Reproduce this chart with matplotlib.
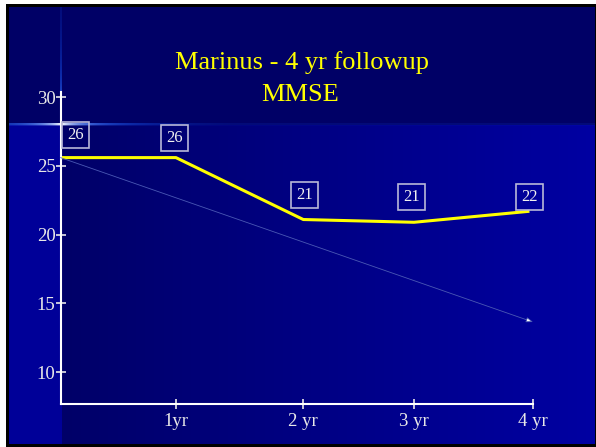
import numpy as np
import matplotlib
matplotlib.use("Agg")
import matplotlib.pyplot as plt

plt.rcParams['font.family'] = ['Liberation Serif', 'DejaVu Serif']

# MMSE scores, baseline + yearly followups
years = [0.03, 1, 2.07, 3, 3.97]
mmse = [25.6, 25.6, 21.1, 20.9, 21.7]
point_labels = ["26", "26", "21", "21", "22"]

# expected decline (thin arrow)
trend_years = [0.03, 4.0]
trend_mmse = [25.6, 13.65]

tick_years = [1, 2.07, 3, 4]
tick_names = ["1yr", "2 yr", "3 yr", "4 yr"]
y_ticks = [10, 15, 20, 25, 30]

# label box offsets (points) from each point
label_offsets = [(11, 16), (-1, 14), (1, 18), (-2, 18), (0, 10)]

W, H = 596, 447
fig = plt.figure(figsize=(W / 100, H / 100), dpi=100, facecolor="white")

# slide background, built as an image
bg = fig.add_axes([0, 0, 1, 1])
bg.axis("off")
img = np.ones((H, W, 3))
img[4:, 6:] = 0  # black frame
xx = np.arange(W)[None, :].astype(float)
yy = np.arange(H)[:, None].astype(float)
top = np.array([0, 0, 102]) / 255
left_strip = np.array([0, 0, 152]) / 255
dark = np.array([0, 0, 104]) / 255
bright = np.array([0, 0, 162]) / 255
t = np.clip((xx - 62) / (595 - 62), 0, 1)[..., None]
inner = dark * (1 - t) + bright * t
inner = np.broadcast_to(inner, (H, W, 3)).copy()
inner[:, :62] = left_strip
inner[:125] = top

# light streaks at the corner of the plot
cx, cy = 61, 124
blue = np.array([20, 90, 255]) / 255
white = np.array([1.0, 1.0, 1.0])
dh = np.abs(xx - cx)
a = np.maximum(np.exp(-dh / 80), 0.12)[0]
w = np.exp(-dh / 22)[0]
col = blue[None, :] * (1 - w[:, None]) + white[None, :] * w[:, None]
for r, k in ((123, 1.0), (124, 1.0), (125, 0.4)):
    inner[r] = inner[r] * (1 - k * a[:, None]) + col * k * a[:, None]
dv = np.abs(yy - cy)[:, 0]
a = np.exp(-dv / 60)
w = np.exp(-dv / 15)
col = blue[None, :] * (1 - w[:, None]) + white[None, :] * w[:, None]
for c in (60, 61):
    inner[:, c] = inner[:, c] * (1 - a[:, None]) + col * a[:, None]

img[7:444, 9:595] = inner[7:444, 9:595]
bg.imshow(img, extent=(0, W, H, 0), interpolation="nearest", aspect="auto")
bg.set_xlim(0, W)
bg.set_ylim(H, 0)

# chart
ax = fig.add_axes([61 / W, 1 - 404 / H, (533 - 61) / W, (404 - 92) / H])
ax.patch.set_alpha(0)
ax.set_xlim(0.034, 4.0)
ax.set_ylim(7.69, 30.37)

ax.plot(years, mmse, color="#ffff00", lw=2.2, solid_capstyle="butt")
ax.annotate("", xy=(trend_years[1], trend_mmse[1]),
            xytext=(trend_years[0], trend_mmse[0]),
            arrowprops=dict(arrowstyle="-|>,head_length=0.4,head_width=0.15",
                            lw=0.6, ec="#4a58b4", fc="white",
                            shrinkA=0, shrinkB=0))

for x, y, lab, off in zip(years, mmse, point_labels, label_offsets):
    ax.annotate(lab, (x, y), xytext=off, textcoords="offset points",
                ha="center", va="center", fontsize=12, color="#f0f0f0",
                bbox=dict(boxstyle="square,pad=0.3", fc="none",
                          ec="#b8b8d8", lw=1.2))

ax.set_xticks(tick_years)
ax.set_xticklabels(tick_names)
ax.set_yticks(y_ticks)
for s in ["top", "right"]:
    ax.spines[s].set_visible(False)
for s in ["left", "bottom"]:
    ax.spines[s].set_color("white")
    ax.spines[s].set_linewidth(1.5)
ax.tick_params(colors="#e8e8e8", labelsize=13.5, direction="inout",
               length=7, width=1.2)
ax.tick_params(axis="y", pad=0.5)
ax.tick_params(axis="x", pad=3)

fig.text(302 / W, 1 - 69 / H, "Marinus - 4 yr followup", ha="center",
         va="baseline", color="#ffff00", fontsize=19)
fig.text(300 / W, 1 - 101 / H, "MMSE", ha="center", va="baseline",
         color="#ffff00", fontsize=19)

fig.savefig("out.png", dpi=100)
